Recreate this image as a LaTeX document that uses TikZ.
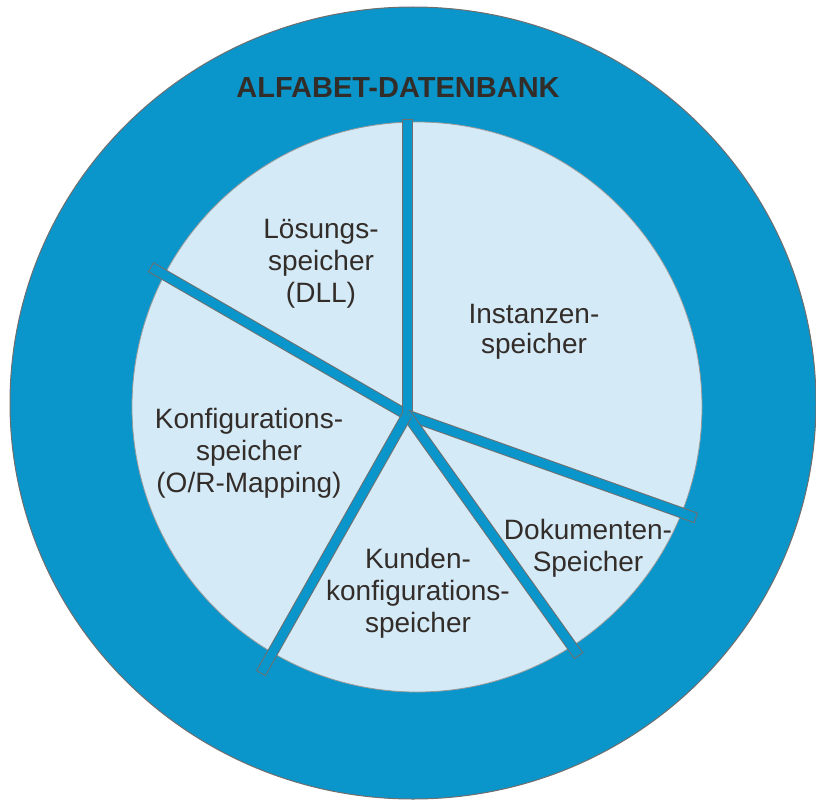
\documentclass[tikz,border=0pt]{standalone}
\usepackage{fontspec}
\setmainfont{Liberation Sans}
\definecolor{ringblau}{RGB}{10,150,203}
\definecolor{feldblau}{RGB}{212,234,247}
\definecolor{rand}{RGB}{110,110,110}
\definecolor{schrift}{RGB}{51,45,42}
\begin{document}
\begin{tikzpicture}[x=1pt, y=-1pt, line join=round, font=\fontsize{28}{32}\selectfont]
	\tikzset{every node/.style={text=schrift, align=center, inner sep=0pt, anchor=base},
		titel/.style={font=\bfseries\fontsize{29}{32}\selectfont}}
	\useasboundingbox (0,0) rectangle (816,800);
	\clip (0,0) rectangle (816,800);
	%Aussenkreis
	\draw[fill=ringblau, draw=rand, line width=1pt] (413,403) ellipse [x radius=403, y radius=396];
	%Innenkreis
	\draw[fill=feldblau, draw=rand!70, line width=0.8pt] (417,407) circle (285);
	%Speichen
	\coordinate (M) at (407,415);
	\foreach \w/\l [count=\i] in {-150/295, -90/295, 19.6/306, 54.5/295, 119.5/296}{
		\coordinate (S\i) at ([shift={(\w:\l)}]M);
		\draw[rand, line width=11pt, shorten >=-1pt] (M)--(S\i);
		\draw[ringblau, line width=9pt] (M)--(S\i);
	}
	%Beschriftung (Anker = letzte Zeile)
	\node[titel] (datenbank) at (398,97) {ALFABET-DATENBANK};
	\node (loesung) at (321,302) {Lösungs-\\speicher\\(DLL)};
	\node[font=\fontsize{28}{30}\selectfont] (instanz) at (534,353) {Instanzen-\\speicher};
	\node (konfig) at (249,492) {Konfigurations-\\speicher\\(O/R-Mapping)};
	\node (dokument) at (588,571) {Dokumenten-\\Speicher};
	\node (kunden) at (418,632) {Kunden-\\konfigurations-\\speicher};
\end{tikzpicture}
\end{document}
